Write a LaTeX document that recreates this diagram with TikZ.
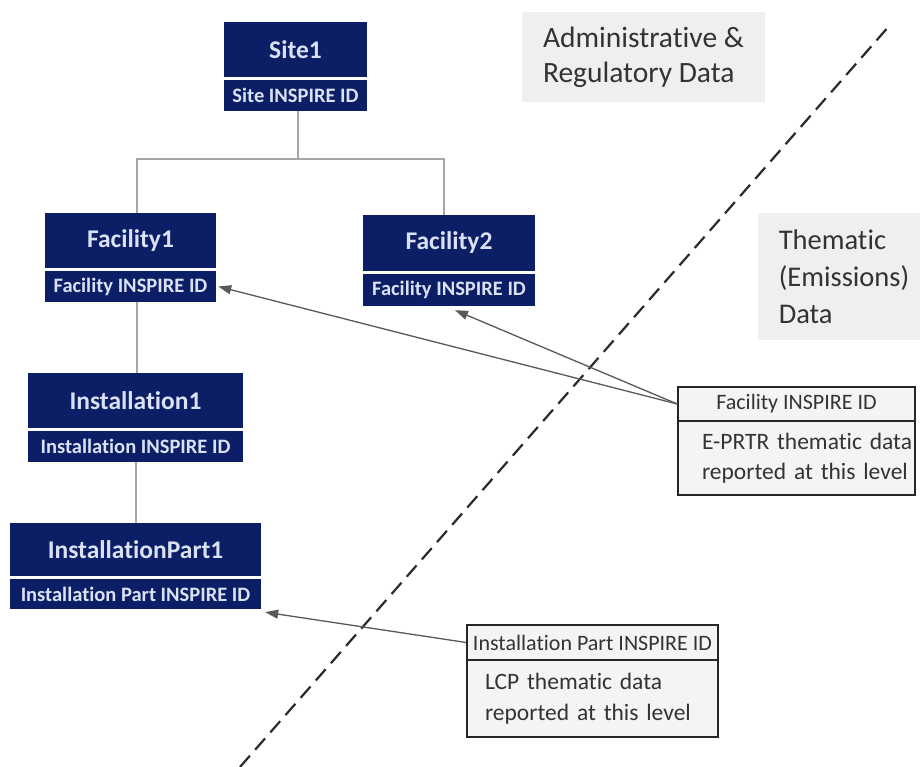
\documentclass[tikz,border=0pt]{standalone}
\usepackage{fontspec}
\setmainfont{Carlito}[Ligatures={NoCommon}]
\usetikzlibrary{arrows.meta}
\definecolor{navy}{HTML}{0C1E66}
\definecolor{lighttext}{HTML}{D9E1F2}
\definecolor{treegray}{HTML}{A6A6A6}
\definecolor{arrgray}{HTML}{595959}
\definecolor{boxline}{HTML}{262626}
\definecolor{boxfill}{HTML}{F4F4F4}
\definecolor{labelfill}{HTML}{EFEFEF}
\definecolor{darktext}{HTML}{333333}
\definecolor{dashcol}{HTML}{2B2B2B}
\newcommand{\ind}[1]{\hspace*{#1}}
\begin{document}
\begin{tikzpicture}[x=1pt,y=-1pt,
  navytop/.style={fill=navy, text=lighttext, inner sep=0pt, font=\bfseries\fontsize{25.5}{30}\selectfont},
  navyid/.style={fill=navy, text=lighttext, inner sep=0pt, font=\bfseries\fontsize{20.5}{24}\selectfont},
  themhead/.style={draw=boxline, fill=boxfill, line width=1.5pt, text=darktext, inner sep=0pt, font=\fontsize{22}{24}\selectfont},
  thembody/.style={draw=boxline, fill=boxfill, line width=1.5pt, text=darktext, inner xsep=0pt, inner ysep=0pt, align=left},
  sidelabel/.style={fill=labelfill, text=darktext, inner sep=0pt, align=left},
  tree/.style={draw=treegray, line width=1.5pt},
  arr/.style={draw=arrgray, line width=1.3pt, -{Triangle[length=13pt,width=9pt]}},
  divline/.style={draw=dashcol, line width=2.2pt, dash pattern=on 15pt off 8pt}
]
\useasboundingbox (0,0) rectangle (920,767);
\fill[white] (0,0) rectangle (920,767);

% side labels
\node[sidelabel, minimum width=243pt, minimum height=90pt, font=\fontsize{29.5}{35}\selectfont] (admin) at (643.5,57) {Administrative \&\\Regulatory Data};
\node[sidelabel, minimum width=172pt, minimum height=127pt, font=\fontsize{28.5}{37}\selectfont] (thematic) at (844,276.5) {Thematic\\(Emissions)\\Data};

% dashed divider
\coordinate (dA) at (240,767);
\coordinate (dB) at (890,25);
\draw[divline] (dA) -- (dB);

% navy boxes
\node[navytop, minimum width=143pt, minimum height=55pt] (site1) at (295.5,49.5) {Site1};
\node[navyid, minimum width=143pt, minimum height=31pt] (site1id) at (295.5,95.5) {Site INSPIRE ID};

\node[navytop, minimum width=171pt, minimum height=55pt] (fac1) at (130.5,240.5) {Facility1};
\node[navyid, minimum width=171pt, minimum height=31pt] (fac1id) at (130.5,286.5) {Facility INSPIRE ID};

\node[navytop, minimum width=172pt, minimum height=56pt] (fac2) at (449,243) {Facility2};
\node[navyid, minimum width=172pt, minimum height=32pt] (fac2id) at (449,290) {Facility INSPIRE ID};

\node[navytop, minimum width=215pt, minimum height=55pt] (inst1) at (135.5,400.5) {Installation1};
\node[navyid, minimum width=215pt, minimum height=31pt] (inst1id) at (135.5,446.5) {Installation INSPIRE ID};

\node[navytop, minimum width=251pt, minimum height=53pt] (ipart) at (135.5,549.5) {InstallationPart1};
\node[navyid, minimum width=251pt, minimum height=30pt] (ipartid) at (135.5,594) {Installation Part INSPIRE ID};

% tree connectors
\draw[tree] ([xshift=2.5pt]site1id.south) -- ++(0,48) coordinate (tj);
\draw[tree] ([xshift=6.5pt]fac1.north) |- (tj) -| ([xshift=-5pt]fac2.north);
\draw[tree] ([xshift=6.5pt]fac1id.south) -- ([xshift=1.5pt]inst1.north);
\draw[tree] ([xshift=0.5pt]inst1id.south) -- ([xshift=0.5pt]ipart.north);

% thematic boxes
\node[themhead, minimum width=237pt, minimum height=34pt] (fthem) at (796.5,404) {Facility INSPIRE ID};
\node[thembody, text width=237pt, minimum height=74pt, font=\fontsize{23.5}{30}\selectfont] (fthembody) at (796.5,458) {\ind{24pt}E-PRTR thematic data\\\ind{24pt}reported at this level};

\node[themhead, minimum width=251pt, minimum height=35pt] (ithem) at (592.5,642.5) {Installation Part INSPIRE ID};
\node[thembody, text width=251pt, minimum height=77pt, font=\fontsize{23.5}{31}\selectfont] (ithembody) at (592.5,698.5) {\ind{18pt}LCP thematic data\\\ind{18pt}reported at this level};

% arrows
\draw[arr] (fthem.west) -- ([xshift=2pt]fac1id.east);
\draw[arr] (fthem.west) -- ([xshift=6pt,yshift=-4pt]fac2id.south);
\draw[arr] (ithem.west) -- ([xshift=4pt,yshift=-3pt]ipartid.south east);
\end{tikzpicture}
\end{document}
